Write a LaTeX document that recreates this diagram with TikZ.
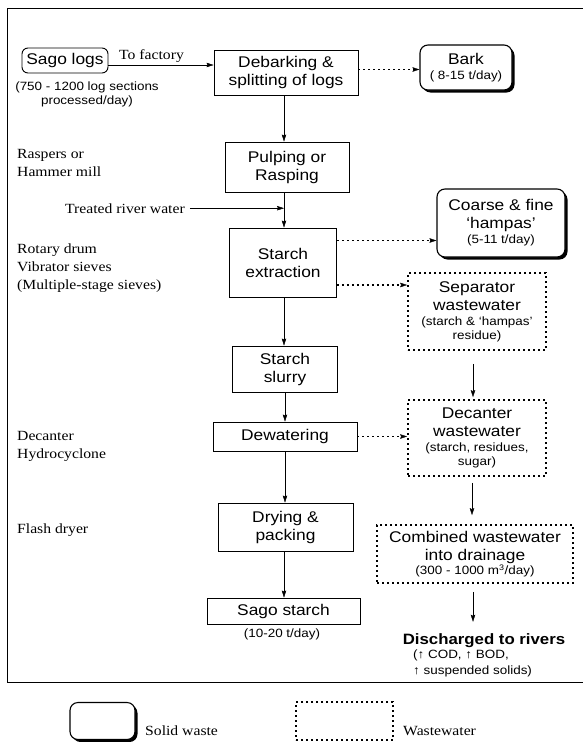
\documentclass[tikz,border=0pt]{standalone}
\usepackage{fontspec}
\setmainfont{Liberation Serif}[FakeStretch=1.12]
\newfontfamily\arialf{Liberation Sans}[FakeStretch=1.12]
\usetikzlibrary{arrows.meta,shadows}
\newcommand\bigf{\arialf\fontsize{15.5}{18}\selectfont}
\newcommand\smallf{\arialf\fontsize{12}{14}\selectfont}
\newcommand\serf{\rmfamily\fontsize{14}{18}\selectfont}
\begin{document}
\begin{tikzpicture}[x=1pt,y=-1pt,
  tip/.tip={Stealth[length=7pt,width=4.5pt,inset=1pt,line width=0.4pt]},
  arr/.style={line width=0.9pt,-tip},
  dotline/.style={line width=1.7pt,dash pattern=on 1.7pt off 3.3pt,line cap=butt},
  darr/.style={dotline,-tip},
  box/.style={draw,line width=0.9pt,align=center,font=\bigf,inner sep=0pt},
  wastebox/.style={box,dotline},
  solidbox/.style={box,rounded corners=8pt,line width=1.1pt,fill=white,
     drop shadow={shadow xshift=2.5pt,shadow yshift=-2.5pt,fill=black,opacity=1}},
  lbl/.style={font=\serf,align=left,inner sep=0pt,anchor=base west},
  note/.style={font=\smallf,align=center,inner sep=0pt}]
\useasboundingbox (0,0) rectangle (583,742);
% frame
\draw[line width=1pt] (590,8) -- (7,8) -- (7,682) -- (590,682);

% main column
\node[box,rounded corners=6pt,minimum width=86pt,minimum height=25pt] (sago) at (65,60.5) {Sago logs};
\node[note] (sagonote) at (87,94) {(750 - 1200 log sections\\processed/day)};
\node[box,minimum width=144pt,minimum height=45pt] (debark) at (286,72.5) {Debarking \&\\splitting of logs};
\node[solidbox,minimum width=92pt,minimum height=45pt] (bark) at (466,67.5) {Bark\\[-3pt]{\smallf( 8-15 t/day)}};
\node[box,minimum width=124pt,minimum height=50pt] (pulp) at (287,167) {Pulping or\\Rasping};
\node[box,minimum width=107pt,minimum height=69pt] (extract) at (283,262.5) {Starch\\extraction};
\node[solidbox,minimum width=128pt,minimum height=68pt] (hampas) at (501,223) {Coarse \& fine\\‘hampas’\\[-3pt]{\smallf(5-11 t/day)}};
\node[wastebox,minimum width=138pt,minimum height=77pt] (sepww) at (477,311.5) {Separator\\wastewater\\[-3pt]{\smallf(starch \& ‘hampas’}\\[-4pt]{\smallf residue)}};
\node[box,minimum width=105pt,minimum height=46pt] (slurry) at (285,369) {Starch\\slurry};
\node[box,minimum width=144pt,minimum height=29pt] (dewater) at (285,436.5) {Dewatering};
\node[wastebox,minimum width=138pt,minimum height=76pt] (decww) at (477,438) {Decanter\\wastewater\\[-3pt]{\smallf(starch, residues,}\\[-4pt]{\smallf sugar)}};
\node[box,minimum width=135pt,minimum height=48pt] (drying) at (285.5,527) {Drying \&\\packing};
\node[box,minimum width=153pt,minimum height=26pt] (sagostarch) at (283.5,611) {Sago starch};
\node[note] (yield) at (282,634) {(10-20 t/day)};
\node[wastebox,minimum width=196pt,minimum height=58pt] (combined) at (475,554) {Combined wastewater\\into drainage\\[-4pt]{\smallf(300 - 1000 m\textsuperscript{3}/day)}};
\node[font=\arialf\bfseries\fontsize{15}{18}\selectfont,inner sep=0pt] (discharged) at (484,641) {Discharged to rivers};
\node[font=\arialf\fontsize{12}{16}\selectfont,align=left,inner sep=0pt,anchor=north west] (dischnote) at (413,650) {(↑ COD, ↑ BOD,\\↑ suspended solids)};

% side labels (base = last line)
\node[lbl] (tofactory) at (119,59) {To factory};
\node[lbl] (raspers) at (17,176) {Raspers or\\Hammer mill};
\node[lbl] (water) at (65,213) {Treated river water};
\node[lbl] (rotary) at (17,289) {Rotary drum\\Vibrator sieves\\(Multiple-stage sieves)};
\node[lbl] (decanter) at (17,458) {Decanter\\Hydrocyclone};
\node[lbl] (flash) at (17,533) {Flash dryer};

% connectors
\draw[arr] ([yshift=-4.5pt]sago.east) -- ([yshift=-4.5pt]sago.east -| debark.west);
\draw[darr] ([yshift=3pt]debark.east) -- ([yshift=3pt]debark.east -| bark.west);
\draw[arr] (debark.south -| 284,0) -- (pulp.north -| 284,0);
\draw[arr] (pulp.south -| 284,0) -- (extract.north -| 284,0);
\coordinate (join) at (284,209);
\draw[arr] ([xshift=5pt]water.east) -- (water.east -| join);
\draw[darr] ([yshift=22pt]extract.east) -- ([yshift=22pt]extract.east -| hampas.west);
\draw[darr] ([yshift=-22.5pt]extract.east) -- ([yshift=-22.5pt]extract.east -| sepww.west);
\draw[arr] (extract.south -| 284,0) -- (slurry.north -| 284,0);
\draw[arr] (slurry.south -| 285,0) -- (dewater.north -| 285,0);
\draw[arr] (dewater.south -| 285,0) -- (drying.north -| 285,0);
\draw[arr] (drying.south -| 284,0) -- (sagostarch.north -| 284,0);
\draw[darr] (dewater.east) -- (dewater.east -| decww.west);
\draw[arr,shorten <=13pt,shorten >=2pt] (sepww.south -| 473,0) -- (decww.north -| 473,0);
\draw[arr,shorten <=6pt,shorten >=9pt] (decww.south -| 472,0) -- (combined.north -| 472,0);
\draw[arr,shorten <=8pt,shorten >=12pt] (combined.south -| 473,0) -- (discharged.north -| 473,0);

% legend
\node[solidbox,minimum width=65pt,minimum height=37pt] (legsolid) at (102.5,721) {};
\node[lbl] (legsolidtxt) at (145,735) {Solid waste};
\node[wastebox,minimum width=97pt,minimum height=38pt] (legwaste) at (344.5,721) {};
\node[lbl] (legwastetxt) at (403,735) {Wastewater};
\end{tikzpicture}
\end{document}
